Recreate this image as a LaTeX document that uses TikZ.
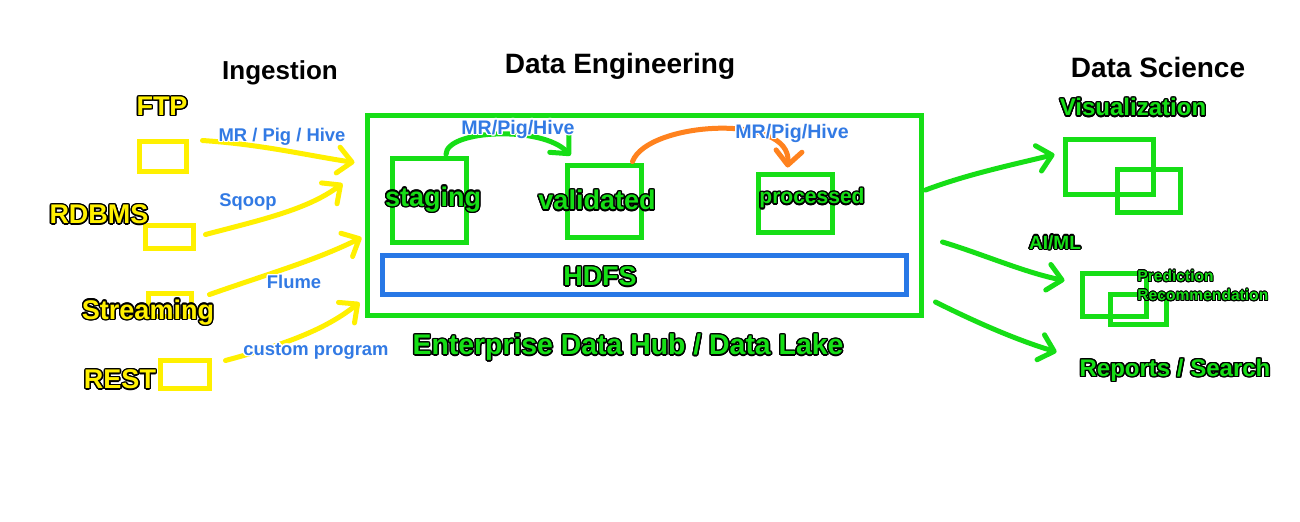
\documentclass[tikz,border=0pt]{standalone}
\usepackage{fontspec}
\setmainfont{Liberation Sans}
\usepackage{contour}
\usetikzlibrary{arrows.meta,fit}

\definecolor{ylw}{RGB}{255,240,0}
\definecolor{grn}{RGB}{22,222,22}
\definecolor{hdfsblue}{RGB}{40,120,230}
\definecolor{toolblue}{RGB}{50,122,228}
\definecolor{orng}{RGB}{255,130,30}

\contourlength{0.7pt}
\newcommand{\blk}[1]{\contour{black}{#1}}
\newcommand{\wht}[1]{\contour{white}{#1}}

\begin{document}
\begin{tikzpicture}[x=0.5pt,y=-0.5pt,
	frame/.style={line width=2.5pt, inner sep=0pt},
	head/.style={font=\fontsize{14}{16}\selectfont\bfseries},
	srclabel/.style={text=ylw, font=\fontsize{13.5}{16}\selectfont\bfseries},
	grnlabel/.style={text=grn, font=\fontsize{13.5}{16}\selectfont\bfseries},
	toollabel/.style={text=toolblue, font=\fontsize{9.2}{11}\selectfont\bfseries},
	flow/.style={line width=2.5pt, line cap=round, -{Straight Barb[length=7pt,width=13pt,round]}}]
	\fill[white] (0,0) rectangle (1300,521);
	\useasboundingbox (0,0) rectangle (1300,521);

	% headings
	\node[head, font=\fontsize{13}{15}\selectfont\bfseries] (ingest) at (280,73) {Ingestion};
	\node[head] (dataeng) at (620,66) {Data Engineering};
	\node[head] (datasci) at (1158,67) {Data Science};

	% sources
	\node[frame, draw=ylw, fit={(139,141) (186,171)}] (ftpbox) {};
	\node[frame, draw=ylw, fit={(145,225) (193,248)}] (rdbmsbox) {};
	\node[frame, draw=ylw, fit={(148,293) (191,316)}] (streambox) {};
	\node[frame, draw=ylw, fit={(160,360) (209,388)}] (restbox) {};

	\node[srclabel] (ftp) at (162,107) {\blk{FTP}};
	\node[srclabel] (rdbms) at (99,215) {\blk{RDBMS}};
	\node[srclabel] (streaming) at (148,313) {\blk{Streaming}};
	\node[srclabel] (rest) at (120,380) {\blk{REST}};

	% data hub
	\node[frame, draw=grn, fit={(367,115) (921,315)}] (hub) {};
	\node[frame, draw=grn, fit={(392,158) (466,242)}] (stagingbox) {};
	\node[frame, draw=grn, fit={(567,165) (641,237)}] (validbox) {};
	\node[frame, draw=grn, fit={(758,174) (832,232)}] (procbox) {};
	\node[frame, draw=hdfsblue, fit={(382,255) (906,294)}] (hdfsbox) {};

	\node[grnlabel] (staging) at (433,200) {\blk{staging}};
	\node[grnlabel] (validated) at (597,201) {\blk{validated}};
	\node[grnlabel, font=\fontsize{10.5}{12}\selectfont\bfseries] (processed) at (812,199) {\blk{processed}};
	\node[grnlabel] (hdfs) at (600,277) {\blk{HDFS}};
	\node[grnlabel, font=\fontsize{14.2}{16}\selectfont\bfseries] (hublabel) at (628,348) {\blk{Enterprise Data Hub / Data Lake}};

	% ingestion arrows
	\coordinate (inA) at ([shift={(-10,50)}]hub.north west);
	\coordinate (inB) at ([shift={(-22,71)}]hub.north west);
	\coordinate (inC) at ([shift={(-3,125)}]hub.north west);
	\coordinate (inD) at ([shift={(-5,190)}]hub.north west);
	\draw[flow, ylw] ([shift={(14,2)}]ftpbox.north east) .. controls +(60,4) and +(-47,-7) .. (inA);
	\draw[flow, ylw] ([shift={(10,12)}]rdbmsbox.north east) .. controls +(57,-15) and +(-35,26) .. (inB);
	\draw[flow, ylw] ([shift={(16,4)}]streambox.north east) .. controls +(63,-22) and +(-44,22) .. (inC);
	\draw[flow, ylw] ([shift={(14,3)}]restbox.north east) .. controls +(67,-18) and +(-32,25) .. (inD);

	\node[toollabel] (mrlabel) at (282,137) {\wht{MR / Pig / Hive}};
	\node[toollabel] (sqoop) at (248,203) {\wht{Sqoop}};
	\node[toollabel] (flume) at (294,283) {\wht{Flume}};
	\node[toollabel] (custom) at (316,352) {\wht{custom program}};

	% processing steps
	\draw[flow, grn] ([shift={(17,-1)}]stagingbox.north) .. controls +(0,-25) and +(-28,-30) .. ([shift={(6,-7)}]validbox.north west);
	\draw[flow, orng] ([shift={(-11,-1)}]validbox.north east) .. controls +(15,-40) and +(5,-55) .. ([shift={(32,-4)}]procbox.north west);
	\node[toollabel, font=\fontsize{9.8}{11}\selectfont\bfseries] (steplabA) at (518,130) {\wht{MR/Pig/Hive}};
	\node[toollabel, font=\fontsize{9.8}{11}\selectfont\bfseries] (steplabB) at (792,134) {\wht{MR/Pig/Hive}};

	% data science
	\node[grnlabel, font=\fontsize{12}{14}\selectfont\bfseries] (vis) at (1133,108) {\blk{Visualization}};
	\node[frame, draw=grn, fit={(1065,139) (1153,194)}] (visA) {};
	\node[frame, draw=grn, fit={(1117,169) (1180,212)}] (visB) {};
	\node[grnlabel, font=\fontsize{9.5}{11}\selectfont\bfseries] (aiml) at (1055,243) {\blk{AI/ML}};
	\node[frame, draw=grn, fit={(1082,273) (1146,316)}] (aiA) {};
	\node[frame, draw=grn, fit={(1110,294) (1166,324)}] (aiB) {};
	\node[grnlabel, font=\fontsize{7.8}{9.5}\selectfont\bfseries, align=left, anchor=north west, inner sep=0pt] (predict) at (1137,270) {\contourlength{0.4pt}\blk{Prediction}\\\contourlength{0.4pt}\blk{Recommendation}};
	\node[grnlabel, font=\fontsize{12}{14}\selectfont\bfseries] (reports) at (1175,371) {\blk{Reports / Search}};

	\draw[flow, grn] ([shift={(2,-25)}]hub.east) .. controls +(40,-15) and +(-50,12) .. ([shift={(-8,18)}]visA.north west);
	\draw[flow, grn] ([shift={(19,27)}]hub.east) .. controls +(40,12) and +(-40,-8) .. ([shift={(-15,-14)}]aiA.west);
	\draw[flow, grn] ([shift={(12,87)}]hub.east) .. controls +(40,20) and +(-40,-12) .. ([shift={(-16,-19)}]reports.west);
\end{tikzpicture}
\end{document}
